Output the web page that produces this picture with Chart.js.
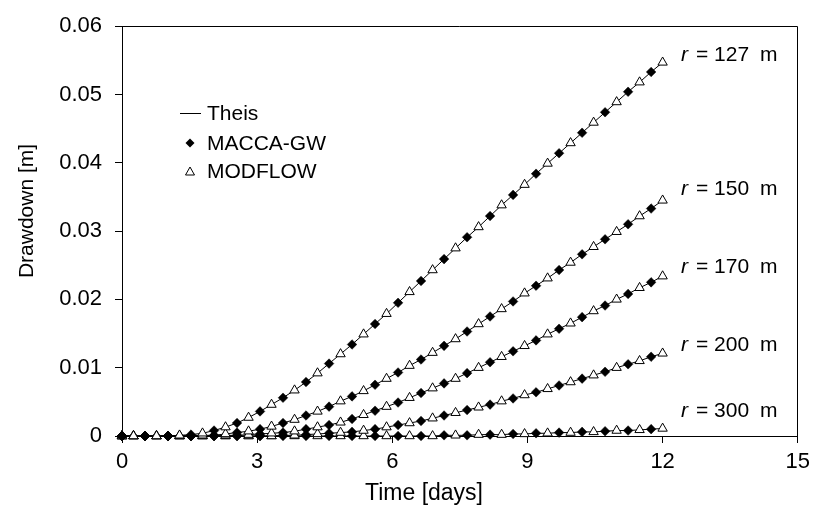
<!DOCTYPE html>
<html><head><meta charset="utf-8">
<script src="https://cdn.jsdelivr.net/npm/chart.js@4/dist/chart.umd.min.js"></script>
<style>html,body{margin:0;padding:0;background:#fff}#wrap{width:816px;height:513px}</style>
</head><body><div id="wrap"><canvas id="c" width="816" height="513"></canvas></div>
<script>
// ---- data ----
const times = [0, 0.255, 0.511, 0.766, 1.021, 1.277, 1.532, 1.787, 2.043, 2.298, 2.553, 2.809, 3.064, 3.319, 3.574, 3.830, 4.085, 4.340, 4.596, 4.851, 5.106, 5.362, 5.617, 5.872, 6.128, 6.383, 6.638, 6.894, 7.149, 7.404, 7.660, 7.915, 8.170, 8.426, 8.681, 8.936, 9.191, 9.447, 9.702, 9.957, 10.213, 10.468, 10.723, 10.979, 11.234, 11.489, 11.745, 12.000];
const d127 = [0,0,0,0,0,0.0001,0.0002,0.0004,0.0008,0.0013,0.0019,0.0027,0.0036,0.0046,0.0056,0.0067,0.0079,0.0092,0.0106,0.0120,0.0134,0.0149,0.0164,0.0179,0.0195,0.0211,0.0227,0.0243,0.0259,0.0275,0.0291,0.0306,0.0322,0.0338,0.0353,0.0368,0.0384,0.0399,0.0414,0.0429,0.0444,0.0459,0.0474,0.0489,0.0504,0.0518,0.0533,0.0547];
const d150 = [0,0,0,0,0,0,0,0.0001,0.0001,0.0003,0.0005,0.0007,0.0010,0.0014,0.0019,0.0024,0.0030,0.0036,0.0043,0.0051,0.0058,0.0066,0.0075,0.0084,0.0093,0.0103,0.0112,0.0122,0.0132,0.0142,0.0153,0.0164,0.0175,0.0186,0.0197,0.0209,0.0220,0.0231,0.0243,0.0254,0.0266,0.0277,0.0288,0.0299,0.0310,0.0322,0.0333,0.0345];
const d170 = [0,0,0,0,0,0,0,0,0,0.0001,0.0001,0.0002,0.0003,0.0004,0.0005,0.0007,0.0010,0.0013,0.0016,0.0020,0.0025,0.0031,0.0037,0.0043,0.0049,0.0056,0.0063,0.0070,0.0077,0.0084,0.0092,0.0100,0.0108,0.0116,0.0124,0.0132,0.0140,0.0149,0.0157,0.0165,0.0174,0.0183,0.0191,0.0200,0.0208,0.0217,0.0225,0.0234];
const d200 = [0,0,0,0,0,0,0,0,0,0,0,0,0,0,0.0001,0.0001,0.0002,0.0003,0.0004,0.0005,0.0006,0.0008,0.0010,0.0013,0.0016,0.0019,0.0022,0.0026,0.0030,0.0034,0.0038,0.0042,0.0046,0.0051,0.0055,0.0060,0.0064,0.0069,0.0074,0.0079,0.0084,0.0089,0.0094,0.0100,0.0105,0.0110,0.0116,0.0121];
const d300 = [0,0,0,0,0,0,0,0,0,0,0,0,0,0,0,0,0,0,0,0,0,0,0,0,0,0,0,0,0.0001,0.0001,0.0001,0.0002,0.0002,0.0002,0.0003,0.0003,0.0004,0.0004,0.0005,0.0005,0.0006,0.0006,0.0007,0.0008,0.0008,0.0009,0.0010,0.0011];
const curves = [d127, d150, d170, d200, d300];
const curveLabels = ['127', '150', '170', '200', '300'];
const seriesNames = ['Theis', 'MACCA-GW', 'MODFLOW'];
const xTickValues = [0, 3, 6, 9, 12, 15];
const xTickLabels = ['0', '3', '6', '9', '12', '15'];
const yTickValues = [0, 0.01, 0.02, 0.03, 0.04, 0.05, 0.06];
const yTickLabels = ['0', '0.01', '0.02', '0.03', '0.04', '0.05', '0.06'];
const xTitle = 'Time [days]';
const yTitle = 'Drawdown [m]';

// ---- build datasets ----
const FONT = '"Liberation Sans", Arial, sans-serif';
const datasets = [];
curves.forEach((vals, ci) => {
  const all = times.map((t, i) => ({x: t, y: vals[i]}));
  datasets.push({label: seriesNames[0] + ' ' + curveLabels[ci], data: all, showLine: true,
    borderColor: '#000', borderWidth: 1, pointRadius: 0, order: 3, clip: false, tension: 0});
  datasets.push({label: seriesNames[1] + ' ' + curveLabels[ci], data: all.filter((p, i) => i % 2 === 0),
    showLine: false, pointStyle: 'rectRot', pointRadius: 4.8, pointBackgroundColor: '#000',
    pointBorderColor: '#000', pointBorderWidth: 0.5, order: 1, clip: false});
  datasets.push({label: seriesNames[2] + ' ' + curveLabels[ci], data: all.filter((p, i) => i % 2 === 1 || i === 0),
    showLine: false, pointStyle: 'triangle', pointRadius: 5.4, pointBackgroundColor: '#fff',
    pointBorderColor: '#000', pointBorderWidth: 1, order: 2, clip: false});
});

const overlay = {
  id: 'overlay',
  afterDraw(chart) {
    const ctx = chart.ctx, ca = chart.chartArea;
    ctx.save();
    // frame top + right
    ctx.strokeStyle = '#000'; ctx.lineWidth = 1;
    ctx.beginPath();
    ctx.moveTo(ca.left, Math.round(ca.top) + 0.5);
    ctx.lineTo(Math.round(ca.right) - 0.5, Math.round(ca.top) + 0.5);
    ctx.lineTo(Math.round(ca.right) - 0.5, ca.bottom);
    ctx.stroke();
    ctx.fillStyle = '#000';
    ctx.textBaseline = 'middle';
    // legend
    ctx.font = '21px ' + FONT; ctx.textAlign = 'left';
    ctx.beginPath(); ctx.moveTo(180, 113.5); ctx.lineTo(201, 113.5); ctx.stroke();
    ctx.fillText(seriesNames[0], 207, 114);
    ctx.beginPath(); ctx.moveTo(185.5, 143); ctx.lineTo(190, 138.5); ctx.lineTo(194.5, 143); ctx.lineTo(190, 147.5); ctx.closePath(); ctx.fill();
    ctx.fillText(seriesNames[1], 207, 144);
    ctx.beginPath(); ctx.moveTo(190, 167); ctx.lineTo(194.5, 175); ctx.lineTo(185.5, 175); ctx.closePath();
    ctx.fillStyle = '#fff'; ctx.fill(); ctx.stroke(); ctx.fillStyle = '#000';
    ctx.fillText(seriesNames[2], 207, 172);
    // curve labels
    const ly = [55, 189, 267, 345, 411];
    curveLabels.forEach((lab, i) => {
      ctx.font = 'italic 21px ' + FONT;
      ctx.fillText('r', 681, ly[i]);
      ctx.font = '21px ' + FONT;
      ctx.fillText('= ' + lab, 696, ly[i]);
      ctx.fillText('m', 760, ly[i]);
    });
    // axis titles
    ctx.textAlign = 'center';
    ctx.font = '23px ' + FONT;
    ctx.fillText(xTitle, 424, 494);
    ctx.font = '21px ' + FONT;
    ctx.translate(27, 211); ctx.rotate(-Math.PI / 2);
    ctx.fillText(yTitle, 0, 0);
    ctx.restore();
  }
};

new Chart(document.getElementById('c'), {
  type: 'scatter',
  data: {datasets},
  options: {
    responsive: false, animation: false, devicePixelRatio: 1,
    layout: {padding: {left: 0, right: 14, top: 20, bottom: 0}},
    plugins: {legend: {display: false}, tooltip: {enabled: false}},
    scales: {
      x: {type: 'linear', min: 0, max: 15,
        afterBuildTicks: s => { s.ticks = xTickValues.map(v => ({value: v})); },
        afterFit: s => { s.height = 77; },
        ticks: {callback: (v, i) => xTickLabels[i], color: '#000', font: {family: FONT, size: 22}, padding: 6, maxRotation: 0},
        grid: {drawOnChartArea: false, drawTicks: true, tickLength: 7, color: '#000'},
        border: {display: true, color: '#000', width: 1}},
      y: {type: 'linear', min: 0, max: 0.06,
        afterBuildTicks: s => { s.ticks = yTickValues.map(v => ({value: v})); },
        afterFit: s => { s.width = 122; },
        ticks: {callback: (v, i) => yTickLabels[i], color: '#000', font: {family: FONT, size: 22}, padding: 13},
        grid: {drawOnChartArea: false, drawTicks: true, tickLength: 7, color: '#000'},
        border: {display: true, color: '#000', width: 1}}
    }
  },
  plugins: [overlay]
});
</script></body></html>
